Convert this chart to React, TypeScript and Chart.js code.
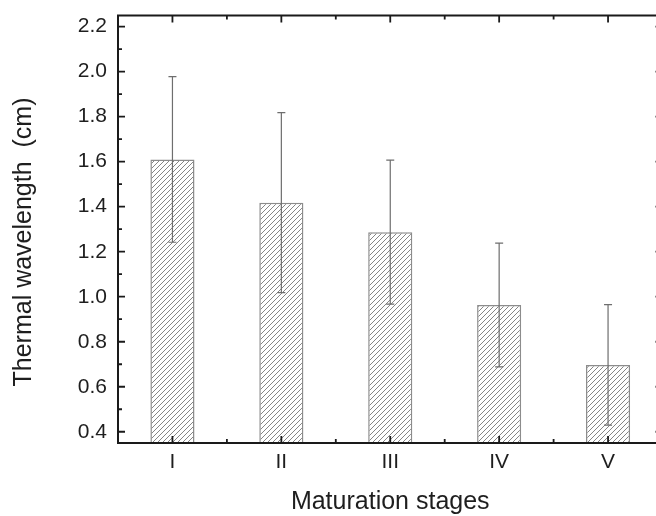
import React, { useEffect, useRef } from 'react';
import { Chart, registerables } from 'chart.js';

Chart.register(...registerables);

const categories = ['I', 'II', 'III', 'IV', 'V'];
const values = [1.61, 1.418, 1.287, 0.963, 0.697];
const errors = [0.368, 0.4, 0.32, 0.275, 0.268];
const yTickValues = [0.4, 0.6, 0.8, 1.0, 1.2, 1.4, 1.6, 1.8, 2.0, 2.2];
const yMinorValues = [0.5, 0.7, 0.9, 1.1, 1.3, 1.5, 1.7, 1.9, 2.1];
const xMinorValues = [0.5, 1.5, 2.5, 3.5];
const yMin = 0.35;
const yMax = 2.25;
const yTitle = 'Thermal wavelength  (cm)';
const xTitle = 'Maturation stages';

const FONT = "'Liberation Sans', Arial, Helvetica, sans-serif";
const AXIS_COLOR = '#1a1a1a';
const TEXT_COLOR = '#1e1e1e';

function makeHatch(): CanvasPattern | string {
  const s = 5;
  const c = document.createElement('canvas');
  c.width = s;
  c.height = s;
  const g = c.getContext('2d');
  if (!g) return '#ddd';
  g.fillStyle = '#ffffff';
  g.fillRect(0, 0, s, s);
  g.strokeStyle = '#858585';
  g.lineWidth = 1;
  g.beginPath();
  g.moveTo(-1, s + 1);
  g.lineTo(s + 1, -1);
  g.moveTo(-1, 1);
  g.lineTo(1, -1);
  g.moveTo(s - 1, s + 1);
  g.lineTo(s + 1, s - 1);
  g.stroke();
  const p = g.createPattern(c, 'repeat');
  return p || '#ddd';
}

const errorBarPlugin = {
  id: 'errorBars',
  afterDatasetsDraw(chart: any) {
    const ctx = chart.ctx;
    const x = chart.scales.x;
    const y = chart.scales.y;
    ctx.save();
    ctx.strokeStyle = '#6e6e6e';
    ctx.lineWidth = 1.2;
    values.forEach((v, i) => {
      const px = x.getPixelForValue(i);
      const top = y.getPixelForValue(v + errors[i]);
      const bot = y.getPixelForValue(v - errors[i]);
      ctx.beginPath();
      ctx.moveTo(px, top);
      ctx.lineTo(px, bot);
      ctx.moveTo(px - 4, top);
      ctx.lineTo(px + 4, top);
      ctx.moveTo(px - 4, bot);
      ctx.lineTo(px + 4, bot);
      ctx.stroke();
    });
    ctx.restore();
  },
};

const framePlugin = {
  id: 'frameTicks',
  afterDraw(chart: any) {
    const ctx = chart.ctx;
    const { left, right, top, bottom } = chart.chartArea;
    const x = chart.scales.x;
    const y = chart.scales.y;
    const major = 7;
    const minor = 4;
    ctx.save();
    ctx.strokeStyle = AXIS_COLOR;
    ctx.lineWidth = 2;
    ctx.beginPath();
    ctx.rect(left, top, right - left, bottom - top);
    ctx.stroke();
    ctx.lineWidth = 1.8;
    ctx.beginPath();
    yTickValues.forEach((v) => {
      const py = y.getPixelForValue(v);
      ctx.moveTo(left, py);
      ctx.lineTo(left + major, py);
      ctx.moveTo(right, py);
      ctx.lineTo(right - major, py);
    });
    yMinorValues.forEach((v) => {
      const py = y.getPixelForValue(v);
      ctx.moveTo(left, py);
      ctx.lineTo(left + minor, py);
      ctx.moveTo(right, py);
      ctx.lineTo(right - minor, py);
    });
    categories.forEach((_, i) => {
      const px = x.getPixelForValue(i);
      ctx.moveTo(px, bottom);
      ctx.lineTo(px, bottom - major);
      ctx.moveTo(px, top);
      ctx.lineTo(px, top + major);
    });
    xMinorValues.forEach((v) => {
      const px = x.getPixelForValue(v);
      ctx.moveTo(px, bottom);
      ctx.lineTo(px, bottom - minor);
      ctx.moveTo(px, top);
      ctx.lineTo(px, top + minor);
    });
    ctx.stroke();

    // y-axis title
    ctx.fillStyle = TEXT_COLOR;
    ctx.font = `25px ${FONT}`;
    ctx.textAlign = 'center';
    ctx.textBaseline = 'middle';
    ctx.translate(24, 242);
    ctx.rotate(-Math.PI / 2);
    ctx.fillText(yTitle, 0, 0);
    ctx.restore();
  },
};

export default function App() {
  const ref = useRef<HTMLCanvasElement | null>(null);

  useEffect(() => {
    const canvas = ref.current;
    if (!canvas) return;
    const hatch = makeHatch();
    const chart = new Chart(canvas, {
      type: 'bar',
      data: {
        labels: categories,
        datasets: [
          {
            data: values,
            backgroundColor: hatch as any,
            borderColor: '#8c8c8c',
            borderWidth: 1.5,
            barPercentage: 0.405,
            categoryPercentage: 1,
          },
        ],
      },
      options: {
        responsive: false,
        animation: false,
        devicePixelRatio: 1,
        layout: { padding: { top: 15.4, right: 17.5, left: 0, bottom: 0 } },
        plugins: {
          legend: { display: false },
          tooltip: { enabled: false },
        },
        scales: {
          x: {
            type: 'category',
            offset: true,
            grid: { display: false, drawTicks: false },
            border: { display: false },
            ticks: {
              color: TEXT_COLOR,
              font: { family: FONT, size: 21 },
              padding: 7,
              maxRotation: 0,
            },
            title: {
              display: true,
              text: xTitle,
              color: TEXT_COLOR,
              font: { family: FONT, size: 25 },
              padding: { top: 0, bottom: -1 },
            },
            afterFit(scale: any) {
              scale.height = 73;
              scale.paddingLeft = 0;
              scale.paddingRight = 0;
            },
          },
          y: {
            type: 'linear',
            min: yMin,
            max: yMax,
            grid: { display: false, drawTicks: false },
            border: { display: false },
            afterBuildTicks(scale: any) {
              scale.ticks = yTickValues.map((v) => ({ value: v }));
            },
            ticks: {
              color: TEXT_COLOR,
              font: { family: FONT, size: 21 },
              padding: 11,
              callback: (v: any) => Number(v).toFixed(1),
            },
            title: { display: false },
            afterFit(scale: any) {
              scale.width = 118;
              scale.paddingTop = 0;
              scale.paddingBottom = 0;
            },
          },
        },
      },
      plugins: [errorBarPlugin, framePlugin],
    });
    return () => chart.destroy();
  }, []);

  return (
    <div
      style={{
        position: 'fixed',
        left: 0,
        top: 0,
        width: 656,
        height: 516,
        overflow: 'hidden',
        background: '#fff',
      }}
    >
      <canvas ref={ref} width={680} height={516} style={{ display: 'block' }} />
    </div>
  );
}
